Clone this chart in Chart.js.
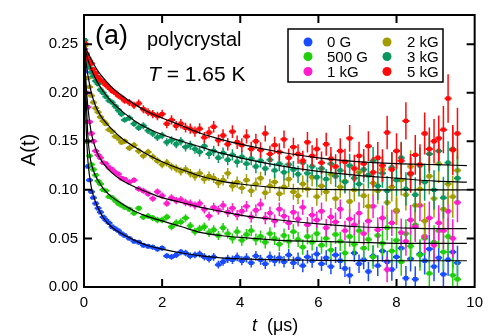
<!DOCTYPE html>
<html><head><meta charset="utf-8">
<script src="https://cdn.jsdelivr.net/npm/chart.js@4.4.1/dist/chart.umd.min.js"></script>
<style>html,body{margin:0;padding:0;background:#fff;}#wrap{position:relative;width:490px;height:336px;}</style>
</head><body><div id="wrap"><canvas id="c" width="490" height="336"></canvas></div>
<script>
// ---- data ----
const times = [0.02,0.06,0.10,0.14,0.19,0.24,0.30,0.36,0.42,0.49,0.56,0.64,0.72,0.80,0.88,0.96,1.04,
1.16,1.28,1.40,1.52,1.64,1.76,1.88,2.00,2.12,2.24,
2.36,2.48,2.60,2.72,2.84,2.96,3.08,3.20,3.32,3.44,
3.56,3.68,3.80,3.92,4.04,4.16,4.28,4.40,4.52,4.64,
4.76,4.88,5.00,5.12,5.24,5.36,5.48,5.60,5.72,5.84,
5.96,6.08,6.20,6.32,6.44,6.56,6.68,6.80,6.92,7.04,
7.16,7.28,7.40,7.52,7.64,7.76,7.88,8.00,8.12,8.24,
8.36,8.48,8.60,8.72,8.84,8.96,9.08,9.20,9.32,9.44,
9.56];
const a0G = [.222,.150,.124,.110,.098,.092,.086,.081,.077,.072,.069,.066,.062,.060,.058,.055,.053,
.050,.047,.046,.043,.042,.041,.039,.040,.032,.031,
.033,.036,.035,.032,.033,.034,.031,.029,.031,.023,
.026,.029,.028,.031,.027,.030,.025,.032,.028,.024,
.031,.027,.030,.026,.033,.025,.029,.022,.031,.027,
.034,.024,.030,.021,.033,.027,.019,.012,.035,.024,
.028,.016,.032,.022,.037,.026,.018,.031,.040,.009,
.029,.008,.034,.027,.039,.021,.030,.013,.028,.036,
.025];
const a500G = [.238,.170,.150,.135,.126,.121,.115,.109,.106,.100,.099,.093,.092,.089,.086,.084,.082,
.080,.076,.081,.072,.073,.071,.069,.069,.072,.062,
.066,.067,.071,.063,.057,.060,.062,.056,.059,.053,
.061,.055,.050,.057,.048,.054,.058,.049,.052,.046,
.055,.050,.044,.053,.047,.057,.049,.041,.052,.046,
.055,.043,.050,.038,.054,.047,.035,.052,.044,.058,
.040,.049,.031,.053,.045,.061,.037,.048,.026,.055,
.042,.064,.033,.050,.014,.046,.058,.036,.052,.012,
.008];
const a1kG = [.245,.200,.185,.170,.158,.150,.140,.136,.133,.128,.127,.123,.121,.118,.116,.112,.111,
.108,.110,.101,.099,.096,.091,.098,.094,.086,.092,
.089,.090,.087,.086,.084,.086,.080,.073,.082,.079,
.084,.077,.081,.074,.078,.083,.072,.079,.085,.071,
.076,.068,.080,.073,.066,.077,.070,.082,.064,.074,
.069,.078,.061,.072,.067,.080,.058,.070,.064,.076,
.055,.068,.083,.059,.071,.018,.066,.078,.056,.047,
.069,.062,.084,.052,.071,.043,.066,.058,.078,.050,
.087];
const a2kG = [.248,.228,.215,.206,.197,.190,.184,.180,.175,.171,.168,.162,.160,.155,.153,.149,.150,
.143,.146,.140,.135,.139,.134,.130,.126,.128,.124,
.122,.119,.121,.117,.114,.117,.111,.114,.112,.107,
.110,.117,.104,.108,.102,.110,.099,.106,.112,.097,
.104,.108,.096,.103,.111,.098,.094,.106,.101,.113,
.093,.104,.098,.116,.091,.103,.109,.088,.100,.118,
.094,.083,.107,.099,.121,.087,.103,.079,.110,.095,
.124,.084,.101,.068,.114,.091,.127,.080,.106,.093,
.120];
const a3kG = [.254,.238,.230,.226,.221,.217,.212,.209,.203,.200,.196,.192,.190,.186,.182,.178,.172,
.174,.168,.164,.166,.161,.158,.154,.156,.149,.151,
.147,.150,.144,.146,.142,.139,.145,.137,.140,.133,
.138,.131,.136,.129,.134,.127,.132,.124,.130,.122,
.131,.120,.127,.118,.126,.121,.116,.128,.117,.124,
.113,.122,.111,.127,.114,.120,.108,.125,.112,.106,
.121,.115,.130,.104,.117,.099,.123,.110,.133,.101,
.116,.095,.125,.108,.137,.100,.140,.092,.128,.142,
.112];
const a5kG = [.251,.240,.236,.233,.230,.224,.220,.216,.213,.211,.208,.205,.202,.200,.197,.195,.192,
.190,.187,.189,.183,.180,.178,.176,.178,.168,.172,
.166,.168,.164,.163,.160,.163,.154,.159,.165,.151,
.156,.147,.160,.149,.146,.155,.142,.150,.141,.158,
.137,.146,.139,.152,.133,.144,.137,.130,.149,.135,
.142,.128,.147,.132,.124,.140,.129,.153,.122,.135,
.127,.145,.118,.133,.125,.159,.121,.140,.130,.171,
.117,.136,.126,.158,.142,.150,.153,.162,.194,.141,
.158];
const errBase = [.0018,.0018,.0018,.0019,.0019,.0020,.0020,.0020,.0021,.0021,.0022,.0022,.0023,.0023,.0024,.0025,.0025,
.0028,.0029,.0030,.0031,.0031,.0032,.0033,.0034,.0035,.0036,
.0037,.0038,.0039,.0040,.0041,.0042,.0043,.0045,.0046,.0047,
.0049,.0050,.0051,.0053,.0055,.0056,.0058,.0060,.0061,.0063,
.0065,.0067,.0069,.0071,.0073,.0075,.0077,.0079,.0081,.0084,
.0086,.0089,.0091,.0094,.0097,.0100,.0102,.0105,.0108,.0112,
.0115,.0118,.0122,.0125,.0129,.0132,.0136,.0140,.0144,.0148,
.0153,.0157,.0162,.0167,.0171,.0176,.0181,.0187,.0192,.0198,
.0204];
const errScale = [0.85, 1.0, 1.0, 1.1, 1.15, 1.3];
const fitT = [0,0.02,0.05,0.1,0.15,0.2,0.3,0.4,0.5,0.7,1.0,1.3,1.6,2.0,2.5,3.0,3.5,4.0,5.0,6.0,7.0,8.0,9.0,9.8];
const fit0G   = [.250,.215,.170,.130,.112,.100,.087,.078,.071,.062,.054,.048,.043,.039,.035,.032,.030,.029,.028,.0275,.0272,.027,.027,.027];
const fit500G = [.250,.235,.200,.155,.135,.125,.114,.107,.101,.093,.085,.078,.073,.068,.062,.056,.053,.051,.048,.047,.046,.045,.045,.045];
const fit1kG  = [.250,.232,.210,.185,.168,.156,.142,.133,.127,.118,.109,.103,.098,.092,.087,.082,.078,.074,.069,.065,.062,.061,.060,.060];
const fit2kG  = [.250,.243,.232,.218,.207,.198,.186,.178,.172,.163,.152,.144,.137,.129,.121,.114,.109,.106,.102,.1005,.100,.100,.100,.100];
const fit3kG  = [.250,.247,.242,.234,.228,.223,.214,.207,.201,.191,.180,.171,.164,.157,.150,.144,.138,.133,.125,.119,.115,.112,.109,.108];
const fit5kG  = [.250,.249,.246,.241,.237,.233,.226,.220,.215,.206,.196,.188,.181,.174,.166,.158,.152,.147,.139,.133,.129,.127,.126,.125];
const seriesLabels = ['0 G','500 G','1 kG','2 kG','3 kG','5 kG'];
const xTicks = [0,2,4,6,8,10];
const yTicks = [0,0.05,0.10,0.15,0.20,0.25];

// ---- styling ----
const colors = ['#1a4cff','#1ecf0a','#ff1ccc','#a39c00','#0a9660','#ff0a0a'];
const FONT = '"Liberation Sans", Arial, Helvetica, sans-serif';
const seriesVals = [a0G,a500G,a1kG,a2kG,a3kG,a5kG];
const fitVals = [fit0G,fit500G,fit1kG,fit2kG,fit3kG,fit5kG];

const datasets = [];
fitVals.forEach((f,k)=>{
  datasets.push({label:'fit '+seriesLabels[k], data:f.map((v,i)=>({x:fitT[i],y:v})), showLine:true,
    borderColor:'#000', borderWidth:1.2, pointRadius:0, cubicInterpolationMode:'monotone', fill:false, order:0});
});
seriesVals.forEach((s,k)=>{
  datasets.push({label:seriesLabels[k], data:s.map((v,i)=>({x:times[i],y:v})),
    errors:errBase.map(e=>e*errScale[k]),
    showLine:false, pointStyle:'rect', pointRadius:3.1, pointBorderWidth:0,
    backgroundColor:colors[k], borderColor:colors[k], order:7-k});
});

const bgPlugin = {id:'bg', beforeDraw(c){const x=c.ctx;x.save();x.fillStyle='#fff';x.fillRect(0,0,c.width,c.height);x.restore();}};
const errPlugin = {
  id:'errbars',
  afterDatasetDraw(chart,args){
    const ds = chart.data.datasets[args.index];
    if(!ds.errors) return;
    const ctx=chart.ctx, xs=chart.scales.x, ys=chart.scales.y, a=chart.chartArea;
    ctx.save();
    ctx.beginPath();ctx.rect(a.left,a.top,a.right-a.left,a.bottom-a.top);ctx.clip();
    ctx.strokeStyle=ds.borderColor;
    ds.data.forEach((p,i)=>{
      const e=ds.errors[i];
      const px=xs.getPixelForValue(p.x), py=ys.getPixelForValue(p.y);
      ctx.lineWidth=1.5;ctx.beginPath();ctx.moveTo(px,ys.getPixelForValue(p.y+e));ctx.lineTo(px,ys.getPixelForValue(p.y-e));ctx.stroke();
      ctx.lineWidth=2;ctx.beginPath();ctx.moveTo(px-3.5,py);ctx.lineTo(px+3.5,py);ctx.stroke();
    });
    ctx.restore();
  }
};
const decorPlugin = {
  id:'decor',
  afterDraw(chart){
    const ctx=chart.ctx, a=chart.chartArea, xs=chart.scales.x, ys=chart.scales.y;
    ctx.save();
    ctx.strokeStyle='#000';ctx.lineWidth=2;
    ctx.strokeRect(a.left,a.top,a.right-a.left,a.bottom-a.top);
    const TL=8;
    ctx.beginPath();
    xTicks.forEach(v=>{ if(v<=0||v>=10) return; const px=xs.getPixelForValue(v);
      ctx.moveTo(px,a.bottom);ctx.lineTo(px,a.bottom-TL);ctx.moveTo(px,a.top);ctx.lineTo(px,a.top+TL);});
    yTicks.forEach(v=>{ if(v<=0) return; const py=ys.getPixelForValue(v);
      ctx.moveTo(a.left,py);ctx.lineTo(a.left+TL,py);ctx.moveTo(a.right,py);ctx.lineTo(a.right-TL,py);});
    ctx.stroke();
    // annotations
    ctx.fillStyle='#000';ctx.textBaseline='alphabetic';ctx.textAlign='left';
    ctx.font='27px '+FONT;ctx.fillText('(a)',95,44);
    ctx.font='20px '+FONT;ctx.fillText('polycrystal',147,46);
    ctx.font='italic 21px '+FONT;ctx.fillText('T',148,81);
    const tw=ctx.measureText('T').width;
    ctx.font='21px '+FONT;ctx.fillText(' = 1.65 K',148+tw,81);
    // axis titles
    ctx.font='italic 18px '+FONT;ctx.fillText('t',252,331);
    const tw2=ctx.measureText('t').width;
    ctx.font='18px '+FONT;ctx.fillText('  (\u03bcs)',252+tw2,331);
    ctx.save();ctx.translate(35,150);ctx.rotate(-Math.PI/2);ctx.textAlign='center';
    ctx.font='20px '+FONT;ctx.fillText('A(t)',0,0);ctx.restore();
    // legend
    ctx.lineWidth=1.5;ctx.strokeRect(288,29,155,53);
    const rows=[42,56.5,71.5], colM=[308,387], colT=[327,407];
    ctx.font='15px '+FONT;ctx.textBaseline='middle';
    seriesLabels.forEach((lab,k)=>{
      const c=Math.floor(k/3), r=k%3;
      ctx.fillStyle=colors[k];ctx.beginPath();ctx.arc(colM[c],rows[r],4.5,0,Math.PI*2);ctx.fill();
      ctx.fillStyle='#000';ctx.fillText(lab,colT[c],rows[r]+1);
    });
    ctx.restore();
  }
};

Chart.defaults.font.family=FONT;
Chart.defaults.font.size=15;
Chart.defaults.color='#000';
new Chart(document.getElementById('c'),{
  type:'scatter',
  data:{datasets},
  options:{
    responsive:false, animation:false, devicePixelRatio:1,
    layout:{padding:{top:14,right:13,left:0,bottom:0}},
    plugins:{legend:{display:false},tooltip:{enabled:false}},
    scales:{
      x:{type:'linear',min:0,max:10,
        afterBuildTicks:s=>{s.ticks=xTicks.map(v=>({value:v}));},
        afterFit:s=>{s.height=49;},
        grid:{display:false,drawTicks:false},border:{display:false},
        ticks:{padding:7,maxRotation:0,callback:v=>String(v),font:{size:15}}},
      y:{type:'linear',min:0,max:0.28,
        afterBuildTicks:s=>{s.ticks=yTicks.map(v=>({value:v}));},
        afterFit:s=>{s.width=84;},
        grid:{display:false,drawTicks:false},border:{display:false},
        ticks:{padding:6,callback:v=>Number(v).toFixed(2),font:{size:15}}}
    }
  },
  plugins:[bgPlugin,errPlugin,decorPlugin]
});
</script></body></html>
